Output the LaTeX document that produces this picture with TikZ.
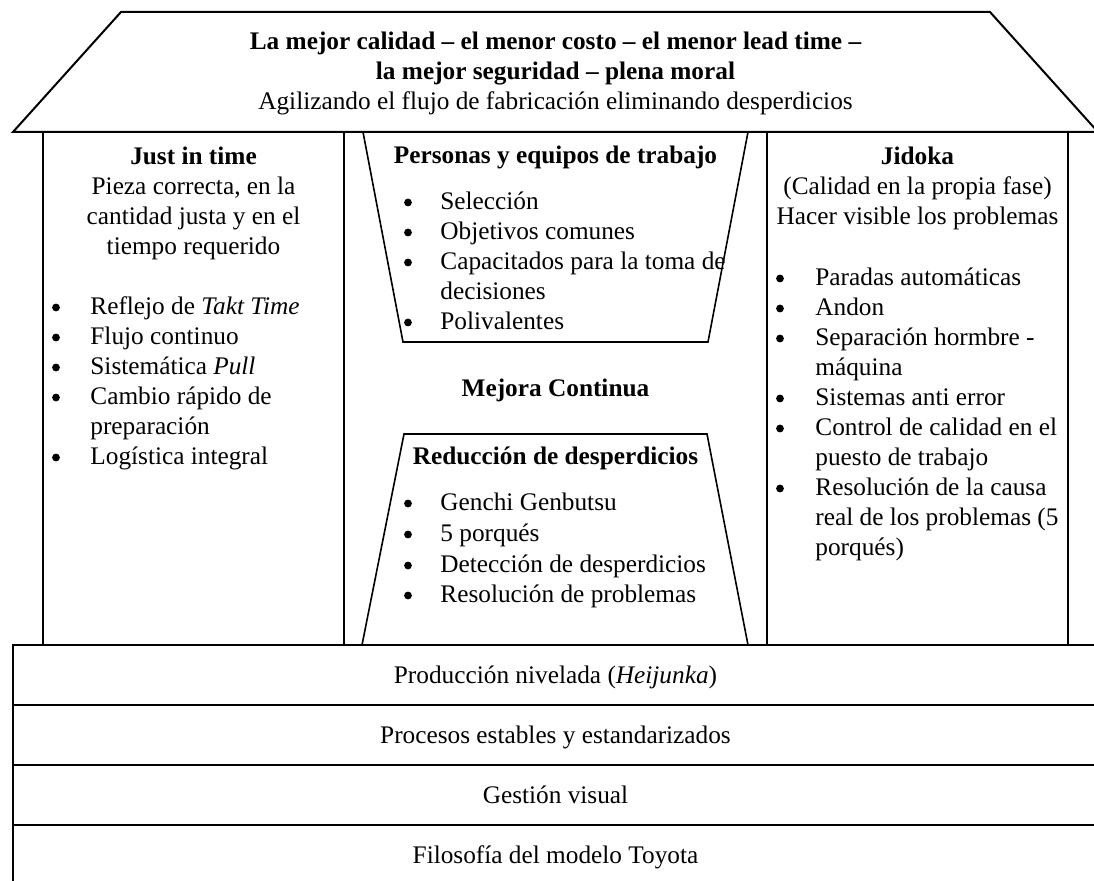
\documentclass[tikz,border=0pt]{standalone}
\usepackage{fontspec}
\setmainfont{Liberation Serif}

% one bulleted column: name prefix, bullet x, text x, list of y/bullet flag/text
\newcommand\bulletrows[4]{%
  \foreach \rowy/\rowb/\rowt [count=\rowi] in {#4}{%
    \node[itemtxt] (#1t\rowi) at (#3,\rowy) {\rowt};
    \ifnum\rowb=1 \node[dot] (#1b\rowi) at (#2,\rowy-7.5) {};\fi
  }}

\begin{document}
\begin{tikzpicture}[x=0.5pt,y=-0.5pt,
  txt/.style={inner sep=0pt, anchor=base, font=\fontsize{12.65}{15}\selectfont},
  ttl/.style={txt, font=\fontsize{12.65}{15}\selectfont\bfseries},
  itemtxt/.style={txt, anchor=base west},
  dot/.style={circle, fill=black, inner sep=0pt, minimum size=3.9pt},
  heavy/.style={line width=1pt},
  light/.style={line width=0.65pt},
  mid/.style={line width=0.8pt},
  layer/.style={draw, line width=1pt, minimum width=542.5pt, minimum height=30pt,
    inner sep=0pt, text height=9pt, text depth=0pt,
    font=\fontsize{12.65}{15}\selectfont}
]
\useasboundingbox (0,0) rectangle (1094,881);
\clip (0,0) rectangle (1094,881);

% pillars
\draw[light] (43,132) rectangle (344,645);
\draw[light] (344,132) rectangle (767,645);
\draw[light] (767,132) rectangle (1068,645);

% central trapezoids
\draw[mid] (363,132) -- (403,342) -- (708,342) -- (748,132);
\draw[mid] (362,645) -- (404,434) -- (707,434) -- (748,645);

% roof
\draw[heavy, line join=miter] (121,12) -- (990,12) -- (1098,132) -- (13,132) -- cycle;
\node[ttl] (roof1) at (555.5,50) {La mejor calidad – el menor costo – el menor lead time –};
\node[ttl] (roof2) at (555.5,80) {la mejor seguridad – plena moral};
\node[txt] (roof3) at (555.5,110) {Agilizando el flujo de fabricación eliminando desperdicios};

% foundation layers
\node[layer] (l1) at (555.5,675) {Producción nivelada (\textit{Heijunka})};
\node[layer] (l2) at (555.5,735) {Procesos estables y estandarizados};
\node[layer] (l3) at (555.5,795) {Gestión visual};
\node[layer] (l4) at (555.5,855) {Filosofía del modelo Toyota};

% Just in time
\node[ttl] (jit) at (193.5,165) {Just in time};
\node[txt] (jit1) at (193.5,195) {Pieza correcta, en la};
\node[txt] (jit2) at (193.5,225) {cantidad justa y en el};
\node[txt] (jit3) at (193.5,255) {tiempo requerido};
\bulletrows{jitl}{56}{90}{315/1/{Reflejo de \textit{Takt Time}},
  345/1/{Flujo continuo}, 375/1/{Sistemática \textit{Pull}},
  405/1/{Cambio rápido de}, 435/0/{preparación}, 465/1/{Logística integral}}

% Jidoka
\node[ttl] (jid) at (917.5,165) {Jidoka};
\node[txt] (jid1) at (917.5,195) {(Calidad en la propia fase)};
\node[txt] (jid2) at (917.5,225) {Hacer visible los problemas};
\bulletrows{jidl}{780}{815}{286/1/{Paradas automáticas}, 316/1/{Andon},
  346/1/{Separación hormbre -}, 376/0/{máquina}, 406/1/{Sistemas anti error},
  436/1/{Control de calidad en el}, 466/0/{puesto de trabajo},
  496/1/{Resolución de la causa}, 526/0/{real de los problemas (5},
  556/0/{porqués)}}

% Personas y equipos de trabajo
\node[ttl] (per) at (555.5,164) {Personas y equipos de trabajo};
\bulletrows{perl}{408}{440}{210/1/{Selección}, 240/1/{Objetivos comunes},
  270/1/{Capacitados para la toma de}, 300/0/{decisiones}, 330/1/{Polivalentes}}

% Mejora continua
\node[ttl] (mej) at (555.5,397) {Mejora Continua};

% Reduccion de desperdicios
\node[ttl] (red) at (555.5,465) {Reducción de desperdicios};
\bulletrows{redl}{408}{440}{511/1/{Genchi Genbutsu}, 542/1/{5 porqués},
  573/1/{Detección de desperdicios}, 603/1/{Resolución de problemas}}
\end{tikzpicture}
\end{document}
